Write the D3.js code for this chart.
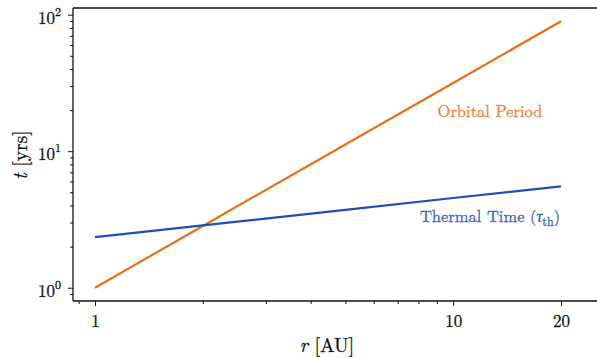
<!DOCTYPE html>
<html lang="en">
<head>
<meta charset="UTF-8">
<title>Orbital period vs thermal time</title>
<script src="https://cdn.jsdelivr.net/npm/d3@7"></script>
<style>
  body { margin: 0; background: #fff; }
  svg text { font-family: "Latin Modern Roman", "CMU Serif", "Liberation Serif", "Times New Roman", Tinos, "Noto Serif", "DejaVu Serif", FreeSerif, serif; stroke-width: 0.3px; }
  .axis path, .axis line { stroke: #111; }
  .axis text { font-size: 17px; fill: #111; stroke: #111; }
</style>
</head>
<body>
<script>
// radius samples [AU]
var radius = [1, 2, 5, 10, 20];
// orbital period [yrs]
var orbital = [1.0, 2.83, 11.2, 31.6, 89.4];
// thermal time [yrs]
var thermal = [2.35, 2.86, 3.72, 4.54, 5.53];

var xMajor = [1, 10, 20];
var xMajorLabels = ["1", "10", "20"];
var xMinor = [0.9, 2, 3, 4, 5, 6, 7, 8, 9];
var yMajor = [1, 10, 100];
var yMajorExp = ["0", "1", "2"];
var yMinor = [0.9, 2, 3, 4, 5, 6, 7, 8, 9, 20, 30, 40, 50, 60, 70, 80, 90];

var width = 597, height = 358;
var m = {left: 73, top: 8, bottom: 301, right: 600};

var svg = d3.select("body").append("svg")
  .attr("width", width)
  .attr("height", height);

var x = d3.scaleLog().domain([0.868, 25.7]).range([m.left, m.right]);
var y = d3.scaleLog().domain([0.799, 111.9]).range([m.bottom, m.top]);

// top frame
svg.append("line").attr("x1", m.left).attr("x2", m.right).attr("y1", m.top).attr("y2", m.top)
  .attr("stroke", "#111").attr("stroke-width", 1.3);

// x axis
var gx = svg.append("g").attr("class", "axis")
  .attr("transform", "translate(0," + m.bottom + ")");
gx.call(d3.axisBottom(x).tickValues(xMajor).tickSize(5).tickPadding(9)
  .tickFormat(function(d, i){ return xMajorLabels[i]; }));
gx.append("g").call(d3.axisBottom(x).tickValues(xMinor).tickSize(3).tickFormat(""))
  .select(".domain").remove();
gx.selectAll("path.domain").attr("d", "M" + m.left + ",0H" + m.right).attr("stroke-width", 1.3);

// y axis
var gy = svg.append("g").attr("class", "axis")
  .attr("transform", "translate(" + m.left + ",0)");
gy.call(d3.axisLeft(y).tickValues(yMajor).tickSize(5).tickFormat(""));
gy.append("g").call(d3.axisLeft(y).tickValues(yMinor).tickSize(3).tickFormat(""))
  .select(".domain").remove();
gy.selectAll("path.domain").attr("d", "M0," + m.top + "V" + m.bottom).attr("stroke-width", 1.3);
svg.selectAll(".tick line").attr("stroke-width", 1);

// y tick labels with exponents
gy.selectAll("text.ylab")
  .data(yMajor)
  .enter().append("text")
  .attr("class", "ylab")
  .attr("x", -12)
  .attr("y", function(d){ return y(d) + 9; })
  .attr("text-anchor", "end")
  .each(function(d, i){
    var t = d3.select(this);
    t.append("tspan").text("10");
    t.append("tspan").attr("dy", -8).style("font-size", "12px").text(yMajorExp[i]);
  });

// lines
var line = d3.line()
  .x(function(d){ return x(d[0]); })
  .y(function(d){ return y(d[1]); });

svg.append("path")
  .datum(d3.zip(radius, orbital))
  .attr("d", line)
  .attr("fill", "none")
  .attr("stroke", "#e8701a")
  .attr("stroke-width", 2.2);

svg.append("path")
  .datum(d3.zip(radius, thermal))
  .attr("d", line)
  .attr("fill", "none")
  .attr("stroke", "#1f4fb2")
  .attr("stroke-width", 2.2);

// annotations
svg.append("text")
  .attr("x", 490).attr("y", 117)
  .attr("text-anchor", "middle")
  .attr("fill", "#ec8640").attr("stroke", "#ec8640")
  .style("font-size", "16.5px")
  .text("Orbital Period");

var th = svg.append("text")
  .attr("x", 490).attr("y", 222)
  .attr("text-anchor", "middle")
  .attr("fill", "#3d63c0").attr("stroke", "#3d63c0")
  .style("font-size", "16.5px");
th.append("tspan").text("Thermal Time (");
th.append("tspan").style("font-style", "italic").text("\u03c4");
th.append("tspan").attr("dy", 4).style("font-size", "12px").text("th");
th.append("tspan").attr("dy", -4).text(")");

// axis labels
var xl = svg.append("text")
  .attr("x", 327).attr("y", 352)
  .attr("text-anchor", "middle")
  .attr("fill", "#111").attr("stroke", "#111")
  .style("font-size", "19.5px");
xl.append("tspan").style("font-style", "italic").text("r");
xl.append("tspan").text(" [AU]");

var yl = svg.append("text")
  .attr("transform", "translate(27,155) rotate(-90)")
  .attr("text-anchor", "middle")
  .attr("fill", "#111").attr("stroke", "#111")
  .style("font-size", "19.5px");
yl.append("tspan").style("font-style", "italic").text("t");
yl.append("tspan").text(" [yrs]");
</script>
</body>
</html>
